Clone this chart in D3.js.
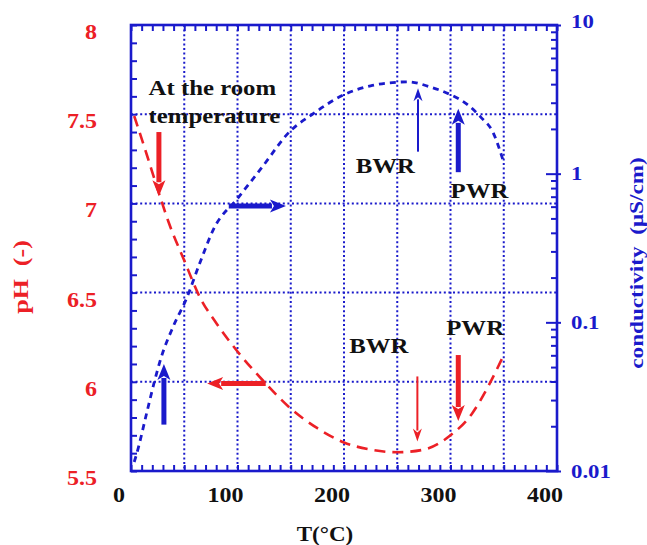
<!DOCTYPE html>
<html><head><meta charset="utf-8">
<script src="https://cdn.jsdelivr.net/npm/d3@7"></script>
<style>body{margin:0;background:#fff}svg{display:block}</style>
</head><body>
<svg id="c" width="647" height="545"></svg>
<script>
// ---- data ----
const phT   = [3, 15, 25, 35, 50, 65, 80, 100, 125, 150, 175, 200, 225, 250, 275, 300, 320, 335, 350];
const phVal = [7.49, 7.27, 7.08, 6.9, 6.68, 6.47, 6.33, 6.17, 6.0, 5.85, 5.74, 5.66, 5.62, 5.605, 5.62, 5.70, 5.82, 5.97, 6.15];
const condT   = [3, 5, 15, 22, 28, 40, 52, 65, 78, 100, 122, 150, 170, 200, 225, 250, 260, 280, 300, 315, 328, 340, 350];
const condVal = [0.0115, 0.0128, 0.025, 0.04, 0.057, 0.095, 0.144, 0.255, 0.43, 0.68, 1.08, 1.95, 2.5, 3.4, 3.9, 4.12, 4.15, 3.85, 3.4, 2.95, 2.42, 1.89, 1.19];
const xTicks = [0, 100, 200, 300, 400];
const xGrid = [50, 100, 150, 200, 250, 300, 350];
const phTicks = [8, 7.5, 7, 6.5, 6, 5.5];
const phGrid = [7.5, 7, 6.5, 6];
const condTicks = [10, 1, 0.1, 0.01];
const condTickLabels = ["10", "1", "0.1", "0.01"];
// arrows in (T, pH) data space: [x1, y1, x2, y2, colour, thick]
const arrows = [
  [26.2, 7.40, 26.2, 7.04, "red", true],
  [91.8, 6.985, 145.5, 6.985, "blue", true],
  [30.9, 5.76, 30.9, 6.10, "blue", true],
  [126.5, 5.99, 71.5, 5.99, "red", true],
  [268.9, 6.03, 268.9, 5.665, "red", false],
  [307.3, 6.15, 307.3, 5.78, "red", true],
  [269.5, 7.29, 269.5, 7.645, "blue", false],
  [307.3, 7.175, 307.3, 7.53, "blue", true]
];
const notes = [
  {t: "At the room", T: 16.5, ph: 7.61},
  {t: "temperature", T: 16.5, ph: 7.45},
  {t: "BWR", T: 211, ph: 7.17},
  {t: "PWR", T: 300, ph: 7.03},
  {t: "BWR", T: 205, ph: 6.16},
  {t: "PWR", T: 296, ph: 6.26}
];

const RED = "#ec2026", BLUE = "#1a1acb";
const L = 131, R = 557, T = 25, B = 471;
const svg = d3.select("#c");
const x = d3.scaleLinear().domain([0, 400]).range([L, R]);
const yP = d3.scaleLinear().domain([5.5, 8]).range([B, T]);
const yC = d3.scaleLog().domain([0.01, 10]).range([B, T]);
const FONT = "'Liberation Serif','Times New Roman',serif";

function stretch(sel, f) {
  sel.each(function () {
    const w = this.getComputedTextLength();
    d3.select(this).attr("textLength", w * f).attr("lengthAdjust", "spacingAndGlyphs");
  });
}

// grid
const g = svg.append("g").attr("stroke", BLUE).attr("stroke-width", 2).attr("stroke-dasharray", "2,2.6");
g.selectAll("line.v").data(xGrid).join("line").attr("class", "v").attr("x1", d => x(d)).attr("x2", d => x(d)).attr("y1", T).attr("y2", B);
g.selectAll("line.h").data(phGrid).join("line").attr("class", "h").attr("y1", d => yP(d)).attr("y2", d => yP(d)).attr("x1", L).attr("x2", R);

// axes (ticks inward)
const ax = svg.append("g").attr("class", "axes");
ax.append("g").attr("transform", `translate(0,${B})`)
  .call(d3.axisBottom(x).tickValues(d3.range(0, 401, 10)).tickSize(-6).tickFormat(""));
ax.append("g").attr("transform", `translate(0,${T})`)
  .call(d3.axisTop(x).tickValues(d3.range(0, 401, 10)).tickSize(-6).tickFormat(""));
ax.append("g").attr("transform", `translate(${L},0)`)
  .call(d3.axisLeft(yP).tickValues(d3.range(5.5, 8.001, 0.1)).tickSize(-6).tickFormat(""));
const condMinor = [];
[0.01, 0.1, 1].forEach(b => { for (let k = 1; k <= 9; k++) condMinor.push(b * k); });
condMinor.push(10);
const rightAx = ax.append("g").attr("transform", `translate(${R},0)`)
  .call(d3.axisRight(yC).tickValues(condMinor).tickSize(-6).tickFormat(""));
rightAx.selectAll(".tick line").filter(d => condTicks.some(c => Math.abs(c - d) / c < 1e-6)).attr("x2", -11).attr("x1", 4);
ax.selectAll(".domain").remove();
ax.selectAll(".tick line").attr("stroke", BLUE).attr("stroke-width", 2);
svg.append("rect").attr("x", L).attr("y", T).attr("width", R - L).attr("height", B - T)
  .attr("fill", "none").attr("stroke", BLUE).attr("stroke-width", 2.6);

// tick labels
svg.append("g").selectAll("text").data(xTicks).join("text")
  .attr("x", d => x(d) - 12).attr("y", B + 31).attr("text-anchor", "middle")
  .attr("font-family", FONT).attr("font-weight", "bold").attr("font-size", 20).attr("fill", "#111")
  .text(d => d).call(stretch, 1.2);
svg.append("g").selectAll("text").data(phTicks).join("text")
  .attr("x", 97).attr("y", d => yP(d) + 14).attr("text-anchor", "end")
  .attr("font-family", FONT).attr("font-weight", "bold").attr("font-size", 20).attr("fill", RED)
  .text(d => d).call(stretch, 1.2);
svg.append("g").selectAll("text").data(condTicks).join("text")
  .attr("x", 571).attr("y", (d, i) => yC(d) + (i === 0 ? 3 : 6.5))
  .attr("font-family", FONT).attr("font-weight", "bold").attr("font-size", 19).attr("fill", BLUE)
  .text((d, i) => condTickLabels[i]).call(stretch, 1.2);

// axis titles
svg.append("text").attr("x", 325).attr("y", 541).attr("text-anchor", "middle")
  .attr("font-family", FONT).attr("font-weight", "bold").attr("font-size", 20).attr("fill", "#111")
  .text("T(°C)").call(stretch, 1.15);
svg.append("text").attr("transform", "translate(28,277) rotate(-90)").attr("text-anchor", "middle")
  .attr("font-family", FONT).attr("font-weight", "bold").attr("font-size", 20).attr("fill", RED)
  .attr("xml:space", "preserve").text("pH  (-)").call(stretch, 1.3);
svg.append("text").attr("transform", "translate(643,263) rotate(-90)").attr("text-anchor", "middle")
  .attr("font-family", FONT).attr("font-weight", "bold").attr("font-size", 19).attr("fill", BLUE)
  .attr("xml:space", "preserve").text("conductivity  (μS/cm)").call(stretch, 1.22);

// curves
const phLine = d3.line().x((d, i) => x(phT[i])).y(d => yP(d)).curve(d3.curveMonotoneX);
svg.append("path").attr("d", phLine(phVal)).attr("fill", "none").attr("stroke", RED)
  .attr("stroke-width", 2.6).attr("stroke-dasharray", "11,7");
const cLine = d3.line().x((d, i) => x(condT[i])).y(d => yC(d)).curve(d3.curveMonotoneX);
svg.append("path").attr("d", cLine(condVal)).attr("fill", "none").attr("stroke", BLUE)
  .attr("stroke-width", 2.8).attr("stroke-dasharray", "6,5");

// arrows
const ag = svg.append("g");
arrows.forEach(a => {
  const [x1, y1, x2, y2, col, thick] = a;
  const c = col === "red" ? RED : BLUE;
  const p1 = [x(x1), yP(y1)], p2 = [x(x2), yP(y2)];
  const dx = p2[0] - p1[0], dy = p2[1] - p1[1], len = Math.hypot(dx, dy);
  const ux = dx / len, uy = dy / len;
  const hl = thick ? 16 : 13, hw = thick ? 6.5 : 4.5, sw = thick ? 5 : 2;
  const hb = [p2[0] - ux * hl, p2[1] - uy * hl];
  ag.append("line").attr("x1", p1[0]).attr("y1", p1[1]).attr("x2", hb[0] + ux * 2).attr("y2", hb[1] + uy * 2)
    .attr("stroke", c).attr("stroke-width", sw);
  const pts = [p2, [hb[0] - uy * hw, hb[1] + ux * hw], [hb[0] + ux * 4, hb[1] + uy * 4], [hb[0] + uy * hw, hb[1] - ux * hw]];
  ag.append("polygon").attr("points", pts.map(p => p.join(",")).join(" ")).attr("fill", c);
});

// annotations
svg.append("g").selectAll("text").data(notes).join("text")
  .attr("x", d => x(d.T)).attr("y", d => yP(d.ph))
  .attr("font-family", FONT).attr("font-weight", "bold").attr("font-size", 21).attr("fill", "#111")
  .text(d => d.t).call(stretch, 1.18);
</script>
</body></html>
